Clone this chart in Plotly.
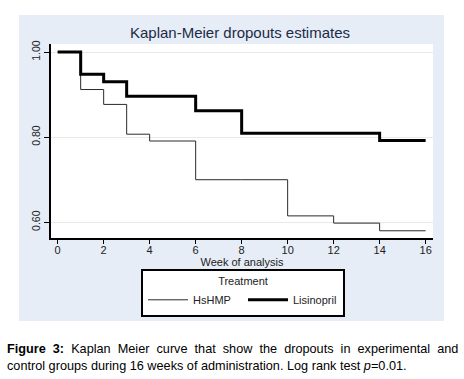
import plotly.graph_objects as go

# ---- data ----
weeks = [0, 1, 2, 3, 4, 6, 8, 10, 12, 14, 16]
hshmp = [1.000, 0.912, 0.877, 0.807, 0.791, 0.700, 0.700, 0.615, 0.598, 0.580, 0.580]
lisinopril = [1.000, 0.948, 0.930, 0.896, 0.896, 0.862, 0.809, 0.809, 0.809, 0.792, 0.792]
x_ticks = [0, 2, 4, 6, 8, 10, 12, 14, 16]
y_ticks = [0.60, 0.80, 1.00]
y_labels = ["0.60", "0.80", "1.00"]

W, H = 464, 379
L, R, T, B = 51, 433, 44, 238  # plot area pixels


def px_x(p):
    return (p - L) / (R - L)


def px_y(p):
    return (B - p) / (B - T)


PANEL = "#e6edf6"

fig = go.Figure()
fig.add_trace(go.Scatter(x=weeks, y=hshmp, mode="lines", name="HsHMP",
                         line=dict(shape="hv", color="#2a2a2a", width=1)))
fig.add_trace(go.Scatter(x=weeks, y=lisinopril, mode="lines", name="Lisinopril",
                         line=dict(shape="hv", color="black", width=3)))

font = "Liberation Sans, Arial, sans-serif"

fig.update_layout(
    width=W, height=H,
    margin=dict(l=L, r=W - R, t=T, b=H - B, autoexpand=False),
    paper_bgcolor=PANEL,
    plot_bgcolor="white",
    font=dict(family=font, color="#222222"),
    title=dict(text="Kaplan-Meier dropouts estimates", x=240 / W, xref="container",
               xanchor="center", y=1 - 33 / H, yref="container", yanchor="middle",
               font=dict(size=15, color="#1c2b48", family=font)),
    xaxis=dict(range=[-0.29, 16.32], tickvals=x_ticks, ticks="outside", ticklen=4,
               tickcolor="black", showline=True, linecolor="black", linewidth=1.5,
               showgrid=False, zeroline=False, tickfont=dict(size=11),
               ticklabelstandoff=-3,
               title=dict(text="Week of analysis", font=dict(size=11), standoff=0)),
    yaxis=dict(range=[0.563, 1.019], tickvals=y_ticks, ticktext=y_labels,
               tickangle=-90, ticks="outside", ticklen=5, tickcolor="black",
               showline=True, linecolor="black", linewidth=1.5,
               showgrid=True, gridcolor="#e9e9e9", gridwidth=1, zeroline=False,
               tickfont=dict(size=10.5)),
    legend=dict(orientation="h", x=px_x(141), y=px_y(269), xanchor="left", yanchor="top",
                bgcolor="white", bordercolor="black", borderwidth=2,
                title=dict(text="Treatment", side="top center", font=dict(size=11)),
                font=dict(size=11), itemwidth=40, entrywidth=45,
                tracegroupgap=0),
    showlegend=True,
)

# white areas outside the light blue panel
for (x0, x1, y0, y1) in [(0, W, 0, 15), (0, W, 321, H), (0, 19, 0, H), (444, W, 0, H)]:
    fig.add_shape(type="rect", xref="paper", yref="paper", layer="above",
                  x0=px_x(x0), x1=px_x(x1), y0=px_y(y1), y1=px_y(y0),
                  fillcolor="white", line=dict(width=0))

# caption (first line spread out like justified text)
line1 = "<b>Figure\u00a0 3:</b>\u00a0 " + "\u00a0 ".join(
    "Kaplan Meier curve that show the dropouts in experimental and".split(" "))
line2 = "control groups during 16 weeks of administration. Log rank test <i>p</i>=0.01."
fig.add_annotation(xref="paper", yref="paper", x=px_x(5), y=px_y(349),
                   xanchor="left", yanchor="middle", showarrow=False, align="left",
                   text=line1, font=dict(size=12.7, color="black", family=font))
fig.add_annotation(xref="paper", yref="paper", x=px_x(5), y=px_y(366),
                   xanchor="left", yanchor="middle", showarrow=False, align="left",
                   text=line2, font=dict(size=12.7, color="black", family=font))

fig.write_html("out.html", config={"displayModeBar": False},
               post_script="document.body.style.margin='0';")
